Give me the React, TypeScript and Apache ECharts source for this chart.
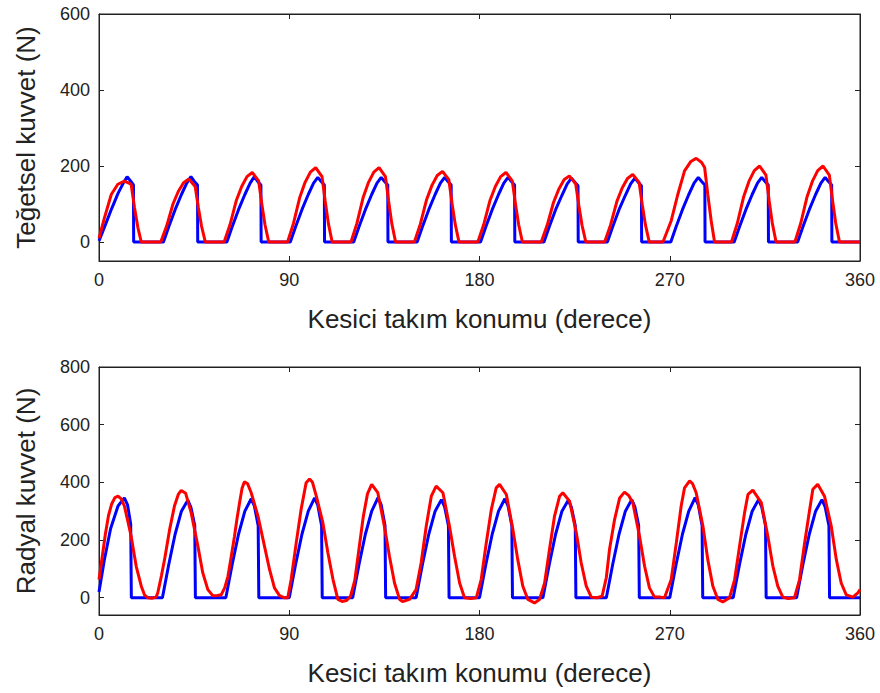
import React, { useEffect, useRef } from 'react';
import * as echarts from 'echarts';

const xTicks = [0, 90, 180, 270, 360];
const topYTicks = [0, 200, 400, 600];
const bottomYTicks = [0, 200, 400, 600, 800];
const xTitle = 'Kesici takım konumu (derece)';
const topYTitle = 'Teğetsel kuvvet (N)';
const bottomYTitle = 'Radyal kuvvet (N)';

// Tangential force – model (blue)
const topBlue: number[][] = [
  [0, 3], [3, 45], [6, 88], [9, 128], [11.5, 155], [13.3, 172], [15, 160], [16.3, 150], [16.4, 0],
  [30.5, 0], [33, 40], [36, 85], [39, 125], [41.5, 155], [43.5, 172], [45, 160], [46.6, 150], [46.7, 0],
  [60.5, 0], [63, 40], [66, 85], [69, 125], [71.5, 155], [73.5, 172], [75, 160], [76.6, 150], [76.7, 0],
  [90.5, 0], [93, 40], [96, 85], [99, 125], [101.5, 155], [103.5, 170], [105, 160], [106.6, 150], [106.7, 0],
  [120.5, 0], [123, 40], [126, 85], [129, 125], [131.5, 155], [133.5, 170], [135, 160], [136.6, 150], [136.7, 0],
  [150.5, 0], [153, 40], [156, 85], [159, 125], [161.5, 155], [163.5, 170], [165, 160], [166.6, 150], [166.7, 0],
  [180.5, 0], [183, 40], [186, 85], [189, 125], [191.5, 155], [193.5, 170], [195, 160], [196.6, 150], [196.7, 0],
  [210.5, 0], [213, 40], [216, 85], [219, 123], [221.5, 153], [223.5, 168], [225, 158], [226.6, 148], [226.7, 0],
  [240.5, 0], [243, 40], [246, 85], [249, 123], [251.5, 153], [253.5, 168], [255, 158], [256.6, 148], [256.7, 0],
  [270.5, 0], [273, 40], [276, 85], [279, 125], [281.5, 155], [283.5, 170], [285, 160], [286.6, 150], [286.7, 0],
  [300.5, 0], [303, 40], [306, 85], [309, 125], [311.5, 155], [313.5, 170], [315, 160], [316.6, 150], [316.7, 0],
  [330.5, 0], [333, 40], [336, 85], [339, 125], [341.5, 155], [343.5, 170], [345, 160], [346.6, 150], [346.7, 0],
  [360, 0],
];

// Tangential force – measured (red)
const topRed: number[][] = [
  [0, 10], [2.6, 64], [5.8, 125], [8.9, 152], [12, 160], [15.2, 152], [16.8, 90], [18.4, 38], [20, 0],
  [29.2, 0], [32, 42], [35, 100], [37.5, 133], [40, 156], [42.5, 166], [45.5, 146], [47, 91], [48.5, 42], [50.3, 0],
  [59.2, 0], [62, 46], [65, 110], [67.5, 146], [70, 172], [72.5, 183], [75.5, 161], [77, 101], [78.5, 46], [80.3, 0],
  [89.2, 0], [92, 49], [95, 118], [97.5, 157], [100, 184], [102.5, 196], [105.5, 172], [107, 108], [108.5, 49], [110.3, 0],
  [119.2, 0], [122, 49], [125, 118], [127.5, 157], [130, 184], [132.5, 196], [135.5, 172], [137, 108], [138.5, 49], [140.3, 0],
  [149.2, 0], [152, 47], [155, 112], [157.5, 149], [160, 175], [162.5, 186], [165.5, 164], [167, 102], [168.5, 47], [170.3, 0],
  [179.2, 0], [182, 46], [185, 110], [187.5, 146], [190, 172], [192.5, 183], [195.5, 161], [197, 101], [198.5, 46], [200.3, 0],
  [209.2, 0], [212, 44], [215, 104], [217.5, 139], [220, 164], [222.5, 174], [225.5, 153], [227, 96], [228.5, 44], [230.3, 0],
  [239.2, 0], [242, 45], [245, 107], [247.5, 142], [250, 167], [252.5, 178], [255.5, 157], [257, 98], [258.5, 45], [260.3, 0],
  [266.8, 0], [270.7, 56], [273.8, 125], [277, 187], [280, 212], [282.5, 220], [285, 210], [286.5, 196], [288, 125], [289.6, 56], [291.2, 0],
  [299.2, 0], [302, 50], [305, 120], [307.5, 160], [310, 188], [312.5, 200], [315.5, 176], [317, 110], [318.5, 50], [320.3, 0],
  [329.2, 0], [332, 50], [335, 120], [337.5, 160], [340, 188], [342.5, 200], [345.5, 176], [347, 110], [348.5, 50], [350.3, 0],
  [360, 0],
];

// Radial force – model (blue)
const bottomBlue: number[][] = [
  [0, 20], [2.5, 130], [5.5, 240], [9, 318], [12, 346], [13.5, 322], [15, 255], [15.3, 0],
  [30, 0], [33, 115], [36, 220], [39, 300], [42, 338], [43.5, 313], [45.3, 250], [45.6, 0],
  [60, 0], [63, 115], [66, 220], [69, 300], [72, 343], [73.5, 318], [75.3, 250], [75.6, 0],
  [90, 0], [93, 115], [96, 220], [99, 300], [102, 346], [103.5, 321], [105.3, 250], [105.6, 0],
  [120, 0], [123, 115], [126, 220], [129, 300], [132, 347], [133.5, 322], [135.3, 250], [135.6, 0],
  [150, 0], [153, 115], [156, 220], [159, 300], [162, 340], [163.5, 315], [165.3, 250], [165.6, 0],
  [180, 0], [183, 115], [186, 220], [189, 300], [192, 343], [193.5, 318], [195.3, 250], [195.6, 0],
  [210, 0], [213, 115], [216, 220], [219, 300], [222, 338], [223.5, 313], [225.3, 250], [225.6, 0],
  [240, 0], [243, 115], [246, 220], [249, 300], [252, 340], [253.5, 315], [255.3, 250], [255.6, 0],
  [270, 0], [273, 115], [276, 220], [279, 300], [282, 347], [283.5, 322], [285.3, 250], [285.6, 0],
  [300, 0], [303, 115], [306, 220], [309, 300], [312, 340], [313.5, 315], [315.3, 250], [315.6, 0],
  [330, 0], [333, 115], [336, 220], [339, 300], [342, 340], [343.5, 315], [345.3, 250], [345.6, 0],
  [360, 0],
];

// Radial force – measured (red)
const bottomRed: number[][] = [
  [0, 63], [1.5, 140], [3, 220], [4.5, 285], [6, 325], [7.5, 347], [9, 352], [10.5, 343], [12, 318], [13.5, 270],
  [15.2, 213], [17.6, 109], [20, 40], [21.5, 10], [23, 0], [25, -2], [27, 2],
  [27.8, 17], [29.5, 75], [31, 132], [33.4, 236], [35.7, 318], [37.5, 358], [38.9, 372], [41, 362], [43.6, 295],
  [46.8, 178], [49.1, 86], [51.5, 28], [53.8, 7], [56, 8], [57.8, 10],
  [59.5, 35], [61, 74], [62.5, 140], [64.1, 213], [65.3, 275], [66.5, 329], [67.7, 380], [68.8, 402], [70.3, 395],
  [72, 364], [75.2, 283], [78.3, 178], [80.7, 97], [83, 34], [85.4, 7], [87.5, 0], [89.3, 0],
  [90.9, 63], [93.3, 190], [95.6, 306], [98, 399], [99.6, 412], [101, 400], [102.8, 352], [105.9, 260], [108.3, 155],
  [110.7, 63], [113, -6], [115, -13], [117, -10], [119, 5],
  [121, 60], [123, 170], [125, 280], [127, 360], [129, 393], [131.9, 364], [135, 248], [137.4, 144], [139.8, 51],
  [142.2, -6], [143.6, -13], [146.9, -6],
  [150, 28], [152.4, 121], [154.8, 248], [157.2, 352], [159.5, 387], [162.7, 364], [165.8, 248], [168.2, 144],
  [170.6, 51], [172.9, 0], [176, -3], [178.5, 0],
  [180.8, 63], [183.2, 190], [185.6, 306], [187.9, 381], [189.5, 393], [192.7, 358], [195.8, 236], [198.1, 132],
  [200.5, 40], [202.9, -6], [206, -18], [208.4, -6],
  [210.8, 51], [213.1, 167], [215.5, 283], [217.9, 352], [219.4, 364], [222.6, 335], [225.8, 225], [228.1, 121],
  [230.5, 40], [232.9, 2], [235.5, 0], [238, 5],
  [240, 70], [241.5, 167], [243.9, 271], [246.3, 346], [248.6, 366], [250.5, 355], [252.5, 330], [255.7, 213],
  [258.1, 109], [260.4, 34], [262.8, 2], [265.5, 2], [267.5, 0],
  [270.7, 63], [273.1, 190], [275.4, 318], [277, 381], [279.4, 405], [280.8, 395], [282.5, 364], [285.7, 248],
  [288, 132], [290.4, 40], [292.8, -6], [295.1, -15], [298.3, 0],
  [300.7, 63], [303, 178], [305.4, 295], [307, 358], [309.3, 373], [313.3, 330], [316.4, 213], [318.8, 109],
  [321.1, 40], [323.5, 2], [326, -3], [329, 0],
  [331.4, 63], [333.8, 190], [336.2, 306], [337.7, 376], [340, 393], [343.2, 352], [346.4, 248], [348.8, 132],
  [351.1, 51], [353.5, 10], [356.6, 2], [359, 17], [360, 28],
];

const FONT = "'Liberation Sans', Arial, sans-serif";
const TEXT = '#222';

export default function App() {
  const ref = useRef<HTMLDivElement>(null);
  useEffect(() => {
    const chart = echarts.init(ref.current as HTMLDivElement, null, { renderer: 'svg' });
    const xAxisFor = (gridIndex: number, position: string, withLabels: boolean) => ({
      type: 'value',
      gridIndex,
      position,
      min: xTicks[0],
      max: xTicks[xTicks.length - 1],
      interval: xTicks[1] - xTicks[0],
      axisLine: { show: true, onZero: false, lineStyle: { color: TEXT, width: 1 } },
      axisTick: { show: true, inside: true, length: 5, lineStyle: { color: TEXT } },
      axisLabel: withLabels
        ? { show: true, fontSize: 18, color: TEXT, fontFamily: FONT, margin: 10, showMinLabel: true, showMaxLabel: true }
        : { show: false },
      splitLine: { show: false },
      name: withLabels ? xTitle : '',
      nameLocation: 'middle',
      nameGap: 45,
      nameTextStyle: { fontSize: 26, color: TEXT, fontFamily: FONT },
    });
    const yAxisFor = (gridIndex: number, position: string, min: number, max: number, ticks: number[], title: string, withLabels: boolean) => ({
      type: 'value',
      gridIndex,
      position,
      min,
      max,
      axisLine: { show: true, onZero: false, lineStyle: { color: TEXT, width: 1 } },
      axisTick: { show: true, inside: true, length: 5, lineStyle: { color: TEXT }, customValues: ticks },
      axisLabel: withLabels
        ? { show: true, fontSize: 18, color: TEXT, fontFamily: FONT, margin: 9, customValues: ticks }
        : { show: false, customValues: ticks },
      splitLine: { show: false },
      name: withLabels ? title : '',
      nameLocation: 'middle',
      nameGap: 60,
      nameTextStyle: { fontSize: 26, color: TEXT, fontFamily: FONT },
    });
    chart.setOption({
      animation: false,
      backgroundColor: '#fff',
      grid: [
        { left: 99, top: 14, width: 761, height: 247, show: true, borderColor: TEXT, borderWidth: 1, backgroundColor: 'transparent' },
        { left: 99, top: 367, width: 761, height: 248, show: true, borderColor: TEXT, borderWidth: 1, backgroundColor: 'transparent' },
      ],
      xAxis: [
        xAxisFor(0, 'bottom', true),
        xAxisFor(0, 'top', false),
        xAxisFor(1, 'bottom', true),
        xAxisFor(1, 'top', false),
      ],
      yAxis: [
        yAxisFor(0, 'left', -50, 600, topYTicks, topYTitle, true),
        yAxisFor(0, 'right', -50, 600, topYTicks, topYTitle, false),
        yAxisFor(1, 'left', -60, 800, bottomYTicks, bottomYTitle, true),
        yAxisFor(1, 'right', -60, 800, bottomYTicks, bottomYTitle, false),
      ],
      series: [
        { type: 'line', name: 'Model', xAxisIndex: 0, yAxisIndex: 0, data: topBlue, showSymbol: false, lineStyle: { color: '#0000ff', width: 3 }, itemStyle: { color: '#0000ff' } },
        { type: 'line', name: 'Deney', xAxisIndex: 0, yAxisIndex: 0, data: topRed, showSymbol: false, lineStyle: { color: '#ff0000', width: 3 }, itemStyle: { color: '#ff0000' } },
        { type: 'line', name: 'Model', xAxisIndex: 2, yAxisIndex: 2, data: bottomBlue, showSymbol: false, lineStyle: { color: '#0000ff', width: 3 }, itemStyle: { color: '#0000ff' } },
        { type: 'line', name: 'Deney', xAxisIndex: 2, yAxisIndex: 2, data: bottomRed, showSymbol: false, lineStyle: { color: '#ff0000', width: 3 }, itemStyle: { color: '#ff0000' } },
      ],
    });
    return () => chart.dispose();
  }, []);
  return <div ref={ref} style={{ position: 'fixed', left: 0, top: 0, width: 880, height: 693, background: '#fff' }} />;
}
